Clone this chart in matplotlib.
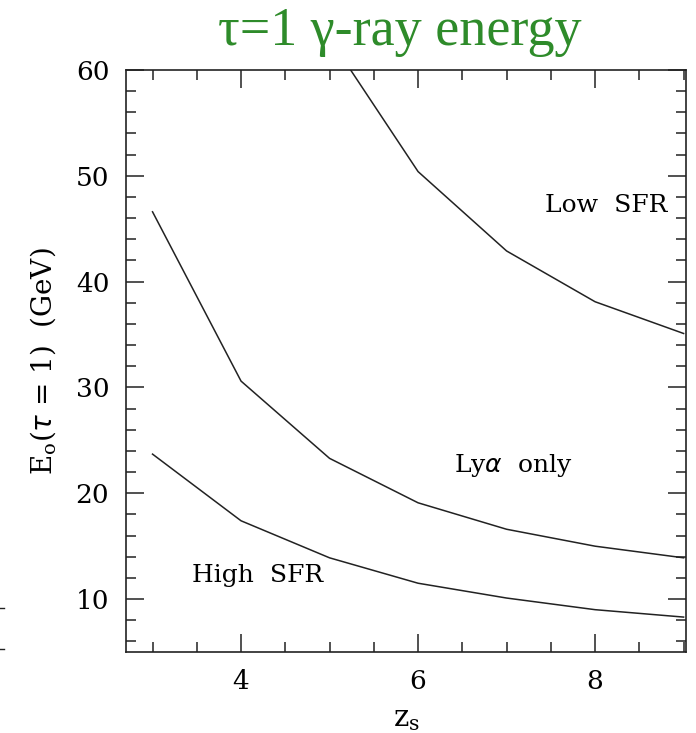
import matplotlib
matplotlib.use("Agg")
import matplotlib.pyplot as plt
from matplotlib.lines import Line2D
from matplotlib.ticker import MultipleLocator

# redshift grid and tau=1 photon energies (GeV) for the three EBL models
z_low = [5, 6, 7, 8, 9]
e_low_sfr = [63.0, 50.4, 42.9, 38.1, 35.1]

z_all = [3, 4, 5, 6, 7, 8, 9]
e_lya_only = [46.6, 30.6, 23.3, 19.1, 16.6, 15.0, 13.9]
e_high_sfr = [23.7, 17.4, 13.9, 11.5, 10.1, 9.0, 8.3]

serif = "DejaVu Serif"

fig = plt.figure(figsize=(6.96, 7.33), dpi=100)
ax = fig.add_axes([0.181, 0.1105, 0.805, 0.794])

for z, e in [(z_low, e_low_sfr), (z_all, e_lya_only), (z_all, e_high_sfr)]:
    ax.plot(z, e, color="#222222", linewidth=1.1)

ax.set_xlim(2.7, 9.03)
ax.set_ylim(5, 60)
ax.xaxis.set_major_locator(MultipleLocator(2))
ax.xaxis.set_minor_locator(MultipleLocator(0.5))
ax.yaxis.set_major_locator(MultipleLocator(10))
ax.yaxis.set_minor_locator(MultipleLocator(2))
ax.set_yticks([10, 20, 30, 40, 50, 60])
ax.tick_params(which="both", direction="in", top=True, right=True,
               width=1.1, colors="#222222", labelcolor="black")
ax.tick_params(which="major", length=13, labelsize=19)
ax.tick_params(axis="x", which="major", pad=12)
ax.tick_params(axis="y", which="major", pad=12)
ax.tick_params(which="minor", length=7)
for lab in ax.get_xticklabels() + ax.get_yticklabels():
    lab.set_family(serif)
for s in ax.spines.values():
    s.set_linewidth(1.2)
    s.set_color("#222222")

ax.set_xlabel("z$_\\mathregular{s}$", fontsize=21, family=serif, labelpad=8)
ax.set_ylabel("E$_\\mathregular{o}$($\\tau$ = 1)  (GeV)", fontsize=20,
              family=serif, labelpad=12)

txt = dict(fontsize=18, family=serif, ha="center", va="center")
ax.text(8.12, 47.2, "Low  SFR", **txt)
ax.text(7.08, 22.6, "Ly$\\alpha$  only", **txt)
ax.text(4.19, 12.2, "High  SFR", **txt)

fig.text(0.575, 0.957, "τ=1 γ-ray energy", color="#2e8b2a", fontsize=39,
         family="Liberation Serif", ha="center", va="center")

# stub ticks of the neighbouring panel at the left edge
for yf in (1 - 608 / 733, 1 - 649 / 733):
    fig.add_artist(Line2D([0, 0.006], [yf, yf], color="#222222", linewidth=1.0))

fig.savefig("out.png", dpi=100)
plt.close(fig)
